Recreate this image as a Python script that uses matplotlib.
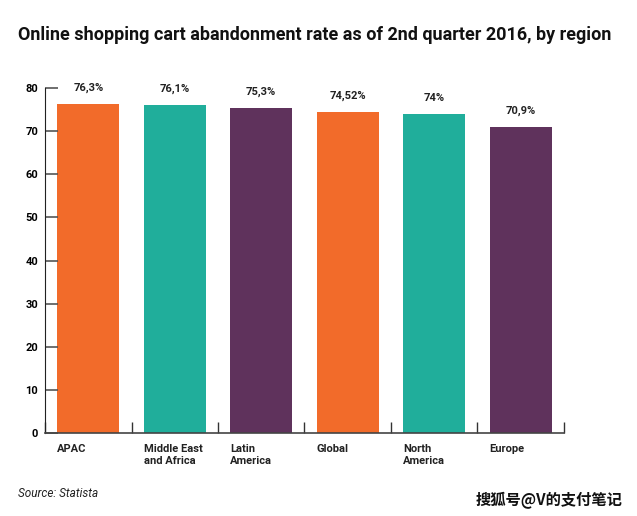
import matplotlib.pyplot as plt
import numpy as np

plt.rcParams['font.family'] = ['Roboto', 'DejaVu Sans']

# data
regions = ["APAC", "Middle East\nand Africa", "Latin\nAmerica", "Global", "North\nAmerica", "Europe"]
rates = [76.3, 76.1, 75.3, 74.52, 74.0, 70.9]
rate_labels = ["76,3%", "76,1%", "75,3%", "74,52%", "74%", "70,9%"]
colors = ["#F26B2A", "#20AE9B", "#5F325C", "#F26B2A", "#20AE9B", "#5F325C"]

fig = plt.figure(figsize=(6.37, 5.16), dpi=100)
ax = fig.add_axes([0.0707, 0.161, 0.8145, 0.668])

x = np.arange(len(regions))
width = 0.72
ax.bar(x, rates, width=width, color=colors)

for xi, r, lab in zip(x, rates, rate_labels):
    ax.annotate(lab, (xi, r), xytext=(0, 8), textcoords="offset points",
                ha="center", va="bottom", fontsize=8, fontweight="bold", color="#222222")

ax.set_xlim(-0.5, len(regions) - 0.5)
ax.set_ylim(0, 80)
ax.set_yticks(np.arange(0, 81, 10))
ax.tick_params(axis="y", direction="in", length=9, width=1.2, color="#555555",
               labelsize=8, pad=5)
for t in ax.get_yticklabels():
    t.set_fontweight("bold")

# category labels sit left-aligned under each bar
ax.set_xticks(x - width / 2)
ax.set_xticklabels(regions, ha="left", fontsize=8, fontweight="bold", color="#222222",
                   linespacing=1.2)
ax.tick_params(axis="x", length=0, pad=8)
ax.set_xticks(np.arange(-0.5, len(regions), 1.0), minor=True)
ax.tick_params(axis="x", which="minor", direction="in", length=8, width=1, color="#333333")

for s in ["top", "right"]:
    ax.spines[s].set_visible(False)
ax.spines["left"].set_color("#222222")
ax.spines["bottom"].set_color("#444444")
ax.spines["bottom"].set_linewidth(1.2)

fig.text(0.028, 0.932, "Online shopping cart abandonment rate as of 2nd quarter 2016, by region",
         fontsize=13, fontweight="bold", ha="left", va="center", color="#111111")
fig.text(0.028, 0.043, "Source: Statista", fontsize=8.5, style="italic", ha="left", va="center",
         color="#222222")
fig.text(0.977, 0.03, "搜狐号@V的支付笔记", fontsize=11, ha="right", va="center",
         fontweight="bold", family=["Noto Sans CJK SC", "DejaVu Sans"], color="#111111")

fig.savefig("out.png", dpi=100)
